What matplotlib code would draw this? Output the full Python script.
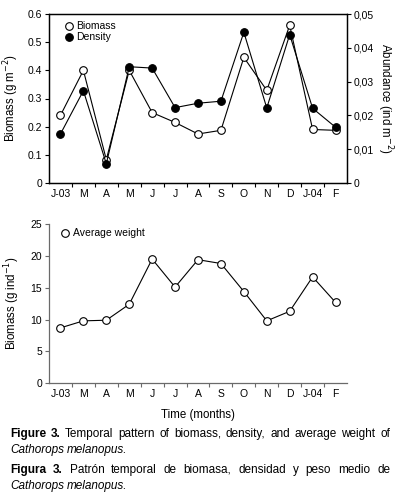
import matplotlib
matplotlib.use("Agg")
import matplotlib.pyplot as plt
from matplotlib.lines import Line2D
import numpy as np

plt.rcParams['font.family'] = ['Liberation Sans', 'DejaVu Sans']

months = ["J-03", "M", "A", "M", "J", "J", "A", "S", "O", "N", "D", "J-04", "F"]
biomass = [0.24, 0.40, 0.083, 0.40, 0.25, 0.215, 0.174, 0.187, 0.446, 0.329, 0.56, 0.19, 0.187]
density = [0.0145, 0.0273, 0.0057, 0.0344, 0.034, 0.0223, 0.0236, 0.0242, 0.0446, 0.0222, 0.0439, 0.0221, 0.0165]
avg_weight = [8.7, 9.8, 9.9, 12.4, 19.5, 15.1, 19.4, 18.8, 14.4, 9.8, 11.3, 16.7, 12.7]

left_ticks = [0, 0.1, 0.2, 0.3, 0.4, 0.5, 0.6]
left_labels = ["0", "0.1", "0.2", "0.3", "0.4", "0.5", "0.6"]
right_ticks = [0, 0.01, 0.02, 0.03, 0.04, 0.05]
right_labels = ["0", "0,01", "0,02", "0,03", "0,04", "0,05"]
w_ticks = [0, 5, 10, 15, 20, 25]

W, H = 398, 496
fig = plt.figure(figsize=(W / 100, H / 100), dpi=100)
fs = 7.5
lfs = 8.3
x = np.arange(len(months))
mk = dict(markersize=5.5, markeredgewidth=0.8, linewidth=0.8)

def setup_x(ax, color):
    ax.set_xlim(-0.5, len(months) - 0.5)
    ax.set_xticks(np.arange(0.5, len(months) - 0.5, 1.0))
    ax.set_xticklabels([])
    ax.tick_params(axis='x', which='major', length=3, width=0.8, color=color)
    ax.set_xticks(x, minor=True)
    ax.set_xticklabels(months, minor=True, fontsize=fs)
    ax.tick_params(axis='x', which='minor', length=0, pad=4)

# Top panel
ax1 = fig.add_axes([49 / W, 1 - 183 / H, (347 - 49) / W, (183 - 14) / H])
ax2 = ax1.twinx()
ax1.plot(x, biomass, '-o', color='black', markerfacecolor='white', zorder=3, **mk)
ax2.plot(x, density, '-o', color='black', markerfacecolor='black', zorder=2, **mk)
ax1.set_ylim(0, 0.6)
ax2.set_ylim(0, 0.05)
ax1.set_yticks(left_ticks)
ax1.set_yticklabels(left_labels, fontsize=fs)
ax2.set_yticks(right_ticks)
ax2.set_yticklabels(right_labels, fontsize=fs)
ax1.tick_params(axis='y', length=3, width=0.8, pad=2)
ax2.tick_params(axis='y', length=3, width=0.8, pad=1.5)
setup_x(ax1, 'black')
for ax in (ax1, ax2):
    for s in ax.spines.values():
        s.set_linewidth(0.9)
ax1.set_ylabel("Biomass (g m$^{-2}$)", fontsize=lfs, labelpad=5)
ax2.set_ylabel("Abundance (ind m$^{-2}$)", fontsize=lfs, rotation=270, va='bottom', labelpad=1)
handles = [Line2D([], [], marker='o', linestyle='none', color='black', markerfacecolor='white', markersize=5.5, markeredgewidth=0.8),
           Line2D([], [], marker='o', linestyle='none', color='black', markerfacecolor='black', markersize=5.5, markeredgewidth=0.8)]
ax1.legend(handles, ["Biomass", "Density"], loc='upper left', frameon=False, fontsize=7.5,
           handletextpad=0.1, labelspacing=0.1, borderaxespad=0.3, handlelength=1.2,
           bbox_to_anchor=(0.02, 1.0))

# Bottom panel
gray = '#6a6a6a'
ax3 = fig.add_axes([49 / W, 1 - 383.3 / H, (347 - 49) / W, (383.3 - 224) / H])
ax3.plot(x, avg_weight, '-o', color='black', markerfacecolor='white', **mk)
ax3.set_ylim(0, 25)
ax3.set_yticks(w_ticks)
ax3.set_yticklabels([str(t) for t in w_ticks], fontsize=fs)
ax3.tick_params(axis='y', length=3, width=0.8, pad=2, color=gray)
setup_x(ax3, gray)
for side in ('top', 'right'):
    ax3.spines[side].set_visible(False)
for side in ('left', 'bottom'):
    ax3.spines[side].set_color(gray)
    ax3.spines[side].set_linewidth(0.9)
ax3.set_ylabel("Biomass (g ind$^{-1}$)", fontsize=lfs, labelpad=6)
ax3.set_xlabel("Time (months)", fontsize=lfs, labelpad=7)
ax3.legend(handles[:1], ["Average weight"], loc='upper left', frameon=False, fontsize=7.5,
           handletextpad=0.1, borderaxespad=0.0, handlelength=1.2, bbox_to_anchor=(0.02, 1.0))

# Caption
renderer = fig.canvas.get_renderer()

def justified(segments, y_px, x0=10, x1=390, justify=True, size=8.5):
    words = []
    for txt, weight, style in segments:
        for wd in txt.split(' '):
            if wd:
                words.append((wd, weight, style))
    arts = []
    for wd, weight, style in words:
        t = fig.text(0, 1 - y_px / H, wd, fontsize=size, fontweight=weight, fontstyle=style,
                     va='baseline', ha='left')
        arts.append(t)
    widths = [a.get_window_extent(renderer).width for a in arts]
    sp = fig.text(0, 0, 'a a', fontsize=size)
    sp2 = fig.text(0, 0, 'aa', fontsize=size)
    sw = sp.get_window_extent(renderer).width - sp2.get_window_extent(renderer).width
    sp.remove(); sp2.remove()
    if justify and len(arts) > 1:
        gap = max((x1 - x0 - sum(widths)) / (len(arts) - 1), 1.5)
    else:
        gap = sw
    cx = x0
    for a, w in zip(arts, widths):
        a.set_x(cx / W)
        cx += w + gap

justified([("Figure 3.", 'bold', 'normal'),
           ("Temporal pattern of biomass, density, and average weight of", 'normal', 'normal')], 437)
justified([("Cathorops melanopus.", 'normal', 'italic')], 453, justify=False)
justified([("Figura 3.", 'bold', 'normal'),
           ("Patrón temporal de biomasa, densidad y peso medio de", 'normal', 'normal')], 473)
justified([("Cathorops melanopus.", 'normal', 'italic')], 489, justify=False)

fig.savefig("out.png", dpi=100)
